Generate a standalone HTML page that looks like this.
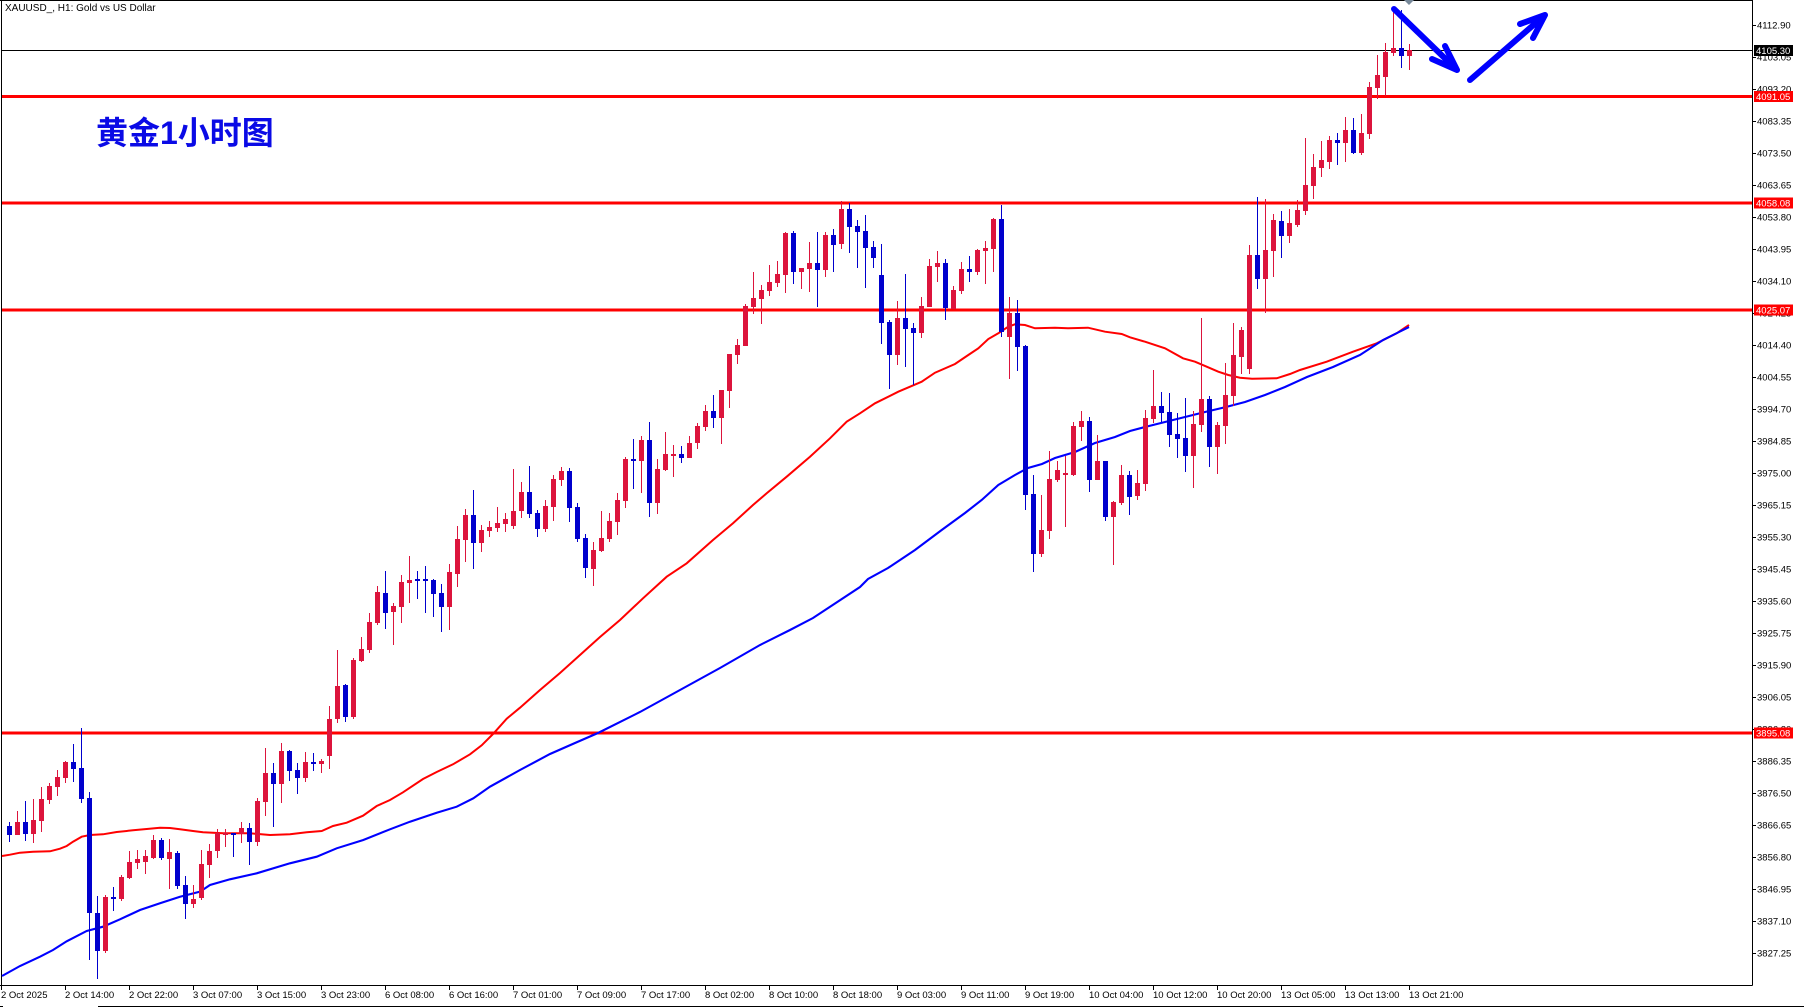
<!DOCTYPE html>
<html><head><meta charset="utf-8"><style>
html,body{margin:0;padding:0;background:#fff;}
svg{display:block;}
text{font-family:"Liberation Sans","DejaVu Sans",sans-serif;}
</style></head><body>
<svg width="1804" height="1007" viewBox="0 0 1804 1007" xmlns="http://www.w3.org/2000/svg">
<rect width="1804" height="1007" fill="#fff"/>
<!-- frame -->
<g stroke="#000" stroke-width="1" shape-rendering="crispEdges" fill="none">
<path d="M1.5 0V985.5M0 0.5H1752.5M1752.5 0V985.5M0 985.5H1752.5M98 1006.5H1804M0 1006.5H3"/>
</g>
<!-- current price line -->
<path d="M2 50.5H1752" stroke="#000" stroke-width="1" shape-rendering="crispEdges"/>
<!-- horizontal red levels -->
<g stroke="#ff0000" stroke-width="3" shape-rendering="crispEdges">
<path d="M2 96.5H1752M2 203H1752M2 310H1752M2 733H1752"/>
</g>
<!-- moving averages -->
<polyline fill="none" stroke="#ff0000" stroke-width="2" points="2,856 10,854.7 20,852.7 33,851.7 50,851.3 60,848.7 66.7,846 73,841.7 81.7,836.7 90,835 103,834.3 116.7,832 133,830.3 146.7,829 160,827.7 170,828 180,829.3 193,831 203,832.3 223,833.3 250,833.3 270,835 290,834.3 306.7,832.3 321.7,831 333,826 346.7,822.7 363,815.7 376.7,806 390,800 403,792.3 423,779 436.7,772 453,764.3 470,754.3 481.7,745.3 493,734 506.7,718.7 520,707.7 540,690 560,673 580,655 600,637 620,620 643,598.3 666.7,576.7 686.7,563.3 713,540 733,523.3 753,505 766.7,493.3 786.7,476.7 810,456.7 830,438.3 846.7,421.7 860,413.3 875,403.3 898.3,391.7 921.7,381.7 935,372.7 955,364 968.3,355 978.3,348.3 988.3,339 998.3,333.3 1008.3,326.7 1015,324.3 1025,325 1035,328.3 1055,327.7 1068,328.3 1088,327.7 1105,331.7 1121.7,334 1130,337.3 1145,341.7 1165,348.3 1183,358.3 1195,361.7 1206.7,366.7 1218.3,371.7 1228.3,375 1240,377.7 1252,378.7 1276.7,378.3 1290,374 1300,370 1326.7,361.7 1353,351.7 1376.7,343.3 1396.7,333.3 1409,325"/>
<polyline fill="none" stroke="#0000ff" stroke-width="2.1" points="2,976 20,966 40,956.7 53,950 66.7,941.3 86.7,931 103,926.7 120,919.3 140,910 160,903.3 180,896.7 200,891.7 210,885 230,879.3 256.7,873.3 290,863.3 316.7,856.7 336.7,848.3 363.3,840 390,829.3 410,821.7 436.7,812.7 456.7,806.7 473.3,798.3 490,786.7 520,770 550,754 575,743 598,733 640,712 680,690 720,668 760,645 790,630 813,618 860,587 868,579 888,568 915,550 941.7,530 965,513 981.7,500 998.3,485 1015,475 1028,468 1042,464 1055,458 1075,452 1095,443 1115,437 1130,431 1145,427 1165,422 1185,417 1205,412 1226,407 1245,402 1265,395 1285,387 1307,377 1333,367 1360,355 1383,340 1409,327"/>
<!-- red candles -->
<g stroke="#dc143c" fill="none" shape-rendering="crispEdges">
<path stroke-width="1" d="M17.5 811V835 M33.5 799V843 M41.5 787V832 M49.5 783V804 M57.5 770V796 M65.5 761V783 M105.5 895V953 M121.5 875V901 M129.5 851V879 M137.5 850V869 M145.5 850V874 M153.5 835V859 M169.5 839V889 M193.5 885V908 M201.5 850V900 M209.5 844V878 M217.5 829V858 M225.5 829V847 M241.5 822V843 M257.5 798V846 M265.5 748V816 M281.5 743V803 M305.5 752V782 M321.5 759V773 M329.5 706V769 M337.5 650V723 M353.5 658V719 M361.5 637V662 M369.5 613V653 M377.5 586V625 M393.5 603V645 M401.5 575V623 M409.5 556V603 M449.5 564V630 M457.5 526V587 M465.5 509V562 M481.5 525V552 M489.5 521V537 M497.5 507V532 M505.5 513V532 M513.5 469V529 M521.5 482V518 M545.5 500V532 M553.5 475V521 M561.5 467V486 M593.5 542V586 M601.5 511V552 M609.5 513V542 M617.5 493V535 M625.5 457V508 M641.5 436V493 M657.5 459V514 M665.5 432V471 M673.5 445V477 M689.5 436V458 M697.5 423V449 M705.5 405V431 M721.5 390V444 M729.5 354V408 M737.5 339V364 M745.5 304V346 M753.5 272V314 M761.5 285V324 M769.5 265V296 M777.5 261V287 M785.5 232V293 M801.5 268V289 M809.5 242V292 M825.5 232V277 M841.5 201V249 M897.5 301V365 M921.5 297V338 M929.5 259V307 M937.5 251V282 M953.5 286V309 M961.5 262V294 M977.5 249V275 M985.5 241V284 M993.5 218V272 M1009.5 297V379 M1041.5 495V557 M1049.5 451V539 M1057.5 461V482 M1065.5 456V527 M1073.5 422V476 M1081.5 411V441 M1097.5 435V480 M1113.5 501V565 M1121.5 465V505 M1137.5 470V500 M1145.5 410V491 M1153.5 370V423 M1193.5 411V488 M1201.5 318V432 M1217.5 422V474 M1225.5 363V444 M1233.5 323V406 M1241.5 327V374 M1249.5 245V374 M1265.5 199V313 M1273.5 214V277 M1289.5 209V243 M1297.5 200V227 M1305.5 138V215 M1313.5 154V199 M1321.5 141V177 M1329.5 136V169 M1345.5 117V162 M1361.5 114V155 M1369.5 82V139 M1377.5 55V99 M1385.5 43V96 M1393.5 10V56 M1409.5 44V70"/>
<path stroke-width="5" d="M17.5 822V835 M33.5 820V834 M41.5 799V821 M49.5 786V800 M57.5 777V787 M65.5 762V778 M105.5 897V951 M121.5 877V899 M129.5 862V878 M137.5 859V863 M145.5 856V862 M153.5 840V858 M169.5 852V859 M193.5 899V904 M201.5 864V898 M209.5 851V865 M217.5 833V851 M225.5 833V835 M241.5 828V834 M257.5 801V842 M265.5 773V802 M281.5 751V784 M305.5 762V778 M321.5 761V764 M329.5 719V756 M337.5 686V719 M353.5 660V717 M361.5 649V661 M369.5 622V650 M377.5 592V623 M393.5 606V612 M401.5 582V607 M409.5 580V583 M449.5 572V607 M457.5 539V574 M465.5 515V540 M481.5 530V543 M489.5 527V531 M497.5 523V528 M505.5 519V524 M513.5 511V526 M521.5 492V511 M545.5 506V529 M553.5 479V507 M561.5 471V480 M593.5 550V569 M601.5 538V551 M609.5 521V539 M617.5 500V522 M625.5 459V501 M641.5 440V461 M657.5 469V503 M665.5 454V470 M673.5 454V456 M689.5 443V458 M697.5 426V443 M705.5 411V427 M721.5 390V418 M729.5 354V391 M737.5 345V355 M745.5 306V346 M753.5 298V307 M761.5 290V299 M769.5 282V291 M777.5 274V283 M785.5 233V275 M801.5 268V272 M809.5 263V269 M825.5 235V270 M841.5 209V244 M897.5 318V355 M921.5 306V333 M929.5 266V307 M937.5 263V267 M953.5 290V309 M961.5 269V291 M977.5 250V272 M985.5 248V251 M993.5 219V249 M1009.5 313V337 M1041.5 530V554 M1049.5 479V531 M1057.5 470V480 M1065.5 473V475 M1073.5 426V475 M1081.5 421V427 M1097.5 461V480 M1113.5 502V517 M1121.5 475V503 M1137.5 483V496 M1145.5 418V484 M1153.5 406V419 M1193.5 424V456 M1201.5 399V425 M1217.5 425V447 M1225.5 395V426 M1233.5 355V396 M1241.5 330V357 M1249.5 255V369 M1265.5 250V279 M1273.5 220V251 M1289.5 223V236 M1297.5 210V225 M1305.5 185V211 M1313.5 167V186 M1321.5 160V168 M1329.5 140V162 M1345.5 130V143 M1361.5 133V153 M1369.5 87V134 M1377.5 75V88 M1385.5 52V77 M1393.5 48V53 M1409.5 50V56"/>
</g>
<!-- blue candles -->
<g stroke="#0000cd" fill="none" shape-rendering="crispEdges">
<path stroke-width="1" d="M9.5 822V842 M25.5 801V841 M73.5 744V782 M81.5 728V803 M89.5 792V960 M97.5 896V979 M113.5 887V911 M161.5 838V860 M177.5 851V889 M185.5 876V919 M233.5 833V857 M249.5 823V865 M273.5 763V827 M289.5 750V781 M297.5 763V794 M313.5 753V771 M345.5 684V722 M385.5 571V629 M417.5 571V599 M425.5 566V613 M433.5 579V617 M441.5 584V632 M473.5 490V569 M529.5 466V518 M537.5 510V537 M569.5 468V522 M577.5 503V542 M585.5 534V578 M633.5 439V489 M649.5 422V517 M681.5 446V463 M713.5 395V428 M793.5 231V284 M817.5 232V307 M833.5 229V272 M849.5 203V253 M857.5 220V268 M865.5 215V288 M873.5 241V268 M881.5 244V344 M889.5 320V389 M905.5 274V367 M913.5 323V385 M945.5 259V320 M969.5 256V282 M1001.5 205V337 M1017.5 300V371 M1025.5 345V510 M1033.5 475V572 M1089.5 417V492 M1105.5 461V521 M1129.5 471V515 M1161.5 392V422 M1169.5 393V447 M1177.5 413V458 M1185.5 398V472 M1209.5 396V467 M1257.5 197V289 M1281.5 211V258 M1337.5 133V165 M1353.5 118V154 M1401.5 10V68"/>
<path stroke-width="5" d="M9.5 826V835 M25.5 822V834 M73.5 762V769 M81.5 768V799 M89.5 798V913 M97.5 913V951 M113.5 897V899 M161.5 840V858 M177.5 853V886 M185.5 885V904 M233.5 833V835 M249.5 828V842 M273.5 773V784 M289.5 751V771 M297.5 770V778 M313.5 762V764 M345.5 685V717 M385.5 593V613 M417.5 579V581 M425.5 579V581 M433.5 580V594 M441.5 593V607 M473.5 515V543 M529.5 492V514 M537.5 513V529 M569.5 471V508 M577.5 507V539 M585.5 538V568 M633.5 459V461 M649.5 440V503 M681.5 454V458 M713.5 411V418 M793.5 233V272 M817.5 263V270 M833.5 235V245 M849.5 209V227 M857.5 226V232 M865.5 231V248 M873.5 247V258 M881.5 275V323 M889.5 322V355 M905.5 318V329 M913.5 328V333 M945.5 263V308 M969.5 269V272 M1001.5 219V332 M1017.5 313V347 M1025.5 346V495 M1033.5 494V554 M1089.5 421V480 M1105.5 461V517 M1129.5 475V497 M1161.5 406V413 M1169.5 412V435 M1177.5 434V439 M1185.5 438V456 M1209.5 399V447 M1257.5 255V279 M1281.5 221V236 M1337.5 140V143 M1353.5 130V153 M1401.5 48V56"/>
</g>
<!-- shift marker -->
<polygon points="1404,0 1414,0 1409,5" fill="#778899"/>
<!-- hand-drawn arrows -->
<g stroke="#0000ff" stroke-width="6" stroke-linecap="round" stroke-linejoin="round" fill="none">
<path d="M1394 9L1457 70M1457 70L1445 46M1457 70L1432 59"/>
<path d="M1470 80L1545 15M1545 15L1520 24M1545 15L1533 38"/>
</g>
<!-- titles -->
<text x="5" y="11" font-size="10" fill="#000">XAUUSD_, H1:  Gold vs US Dollar</text>
<text x="96" y="144" font-size="32" font-weight="bold" fill="#0a0ae6" style="font-family:'Liberation Sans','Noto Sans CJK SC',sans-serif">黄金1小时图</text>
<!-- right axis ticks -->
<g stroke="#000" stroke-width="1" shape-rendering="crispEdges">
<path d="M1752 25.5H1756M1752 57.5H1756M1752 89.5H1756M1752 121.5H1756M1752 153.5H1756M1752 185.5H1756M1752 217.5H1756M1752 249.5H1756M1752 281.5H1756M1752 313.5H1756M1752 345.5H1756M1752 377.5H1756M1752 409.5H1756M1752 441.5H1756M1752 473.5H1756M1752 505.5H1756M1752 537.5H1756M1752 569.5H1756M1752 601.5H1756M1752 633.5H1756M1752 665.5H1756M1752 697.5H1756M1752 729.5H1756M1752 761.5H1756M1752 793.5H1756M1752 825.5H1756M1752 857.5H1756M1752 889.5H1756M1752 921.5H1756M1752 953.5H1756"/>
</g>
<g font-size="9.5" fill="#000">
<text x="1757" y="28.5">4112.90</text>
<text x="1757" y="60.5">4103.05</text>
<text x="1757" y="92.5">4093.20</text>
<text x="1757" y="124.5">4083.35</text>
<text x="1757" y="156.5">4073.50</text>
<text x="1757" y="188.5">4063.65</text>
<text x="1757" y="220.5">4053.80</text>
<text x="1757" y="252.5">4043.95</text>
<text x="1757" y="284.5">4034.10</text>
<text x="1757" y="316.5">4024.25</text>
<text x="1757" y="348.5">4014.40</text>
<text x="1757" y="380.5">4004.55</text>
<text x="1757" y="412.5">3994.70</text>
<text x="1757" y="444.5">3984.85</text>
<text x="1757" y="476.5">3975.00</text>
<text x="1757" y="508.5">3965.15</text>
<text x="1757" y="540.5">3955.30</text>
<text x="1757" y="572.5">3945.45</text>
<text x="1757" y="604.5">3935.60</text>
<text x="1757" y="636.5">3925.75</text>
<text x="1757" y="668.5">3915.90</text>
<text x="1757" y="700.5">3906.05</text>
<text x="1757" y="732.5">3896.20</text>
<text x="1757" y="764.5">3886.35</text>
<text x="1757" y="796.5">3876.50</text>
<text x="1757" y="828.5">3866.65</text>
<text x="1757" y="860.5">3856.80</text>
<text x="1757" y="892.5">3846.95</text>
<text x="1757" y="924.5">3837.10</text>
<text x="1757" y="956.5">3827.25</text>
</g>
<!-- price boxes -->
<rect x="1754" y="45" width="39" height="11" fill="#000"/>
<rect x="1754" y="91" width="39" height="11" fill="#ff0000"/>
<rect x="1754" y="197.5" width="39" height="11" fill="#ff0000"/>
<rect x="1754" y="304.5" width="39" height="11" fill="#ff0000"/>
<rect x="1754" y="727.5" width="39" height="11" fill="#ff0000"/>
<g font-size="9.5" fill="#fff">
<text x="1756" y="54">4105.30</text>
<text x="1756" y="100">4091.05</text>
<text x="1756" y="206.5">4058.08</text>
<text x="1756" y="313.5">4025.07</text>
<text x="1756" y="736.5">3895.08</text>
</g>
<!-- time axis -->
<g stroke="#000" stroke-width="1" shape-rendering="crispEdges">
<path d="M1.5 985V990M65.5 985V990M129.5 985V990M193.5 985V990M257.5 985V990M321.5 985V990M385.5 985V990M449.5 985V990M513.5 985V990M577.5 985V990M641.5 985V990M705.5 985V990M769.5 985V990M833.5 985V990M897.5 985V990M961.5 985V990M1025.5 985V990M1089.5 985V990M1153.5 985V990M1217.5 985V990M1281.5 985V990M1345.5 985V990M1409.5 985V990"/>
</g>
<g font-size="9.5" fill="#000">
<text x="1" y="998">2 Oct 2025</text>
<text x="65" y="998">2 Oct 14:00</text>
<text x="129" y="998">2 Oct 22:00</text>
<text x="193" y="998">3 Oct 07:00</text>
<text x="257" y="998">3 Oct 15:00</text>
<text x="321" y="998">3 Oct 23:00</text>
<text x="385" y="998">6 Oct 08:00</text>
<text x="449" y="998">6 Oct 16:00</text>
<text x="513" y="998">7 Oct 01:00</text>
<text x="577" y="998">7 Oct 09:00</text>
<text x="641" y="998">7 Oct 17:00</text>
<text x="705" y="998">8 Oct 02:00</text>
<text x="769" y="998">8 Oct 10:00</text>
<text x="833" y="998">8 Oct 18:00</text>
<text x="897" y="998">9 Oct 03:00</text>
<text x="961" y="998">9 Oct 11:00</text>
<text x="1025" y="998">9 Oct 19:00</text>
<text x="1089" y="998">10 Oct 04:00</text>
<text x="1153" y="998">10 Oct 12:00</text>
<text x="1217" y="998">10 Oct 20:00</text>
<text x="1281" y="998">13 Oct 05:00</text>
<text x="1345" y="998">13 Oct 13:00</text>
<text x="1409" y="998">13 Oct 21:00</text>
</g>
</svg>
</body></html>
